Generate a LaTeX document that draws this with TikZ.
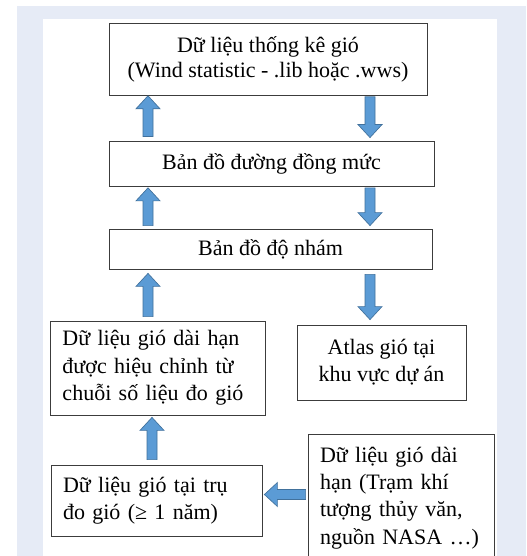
\documentclass[tikz,border=0pt]{standalone}
\usepackage{fontspec}
\setmainfont{Liberation Serif}
\usetikzlibrary{calc}

\definecolor{bandblue}{RGB}{230,235,246}
\definecolor{arrowfill}{RGB}{91,155,213}
\definecolor{arrowedge}{RGB}{65,113,156}
\definecolor{boxedge}{RGB}{60,60,60}

\tikzset{
  box/.style={draw=boxedge, fill=white, line width=0.6pt, inner sep=0pt, align=center,
    font=\fontsize{16.5}{19}\selectfont},
  leftbox/.style={box, inner xsep=9pt, align=left, font=\fontsize{16.5}{20.5}\selectfont},
  blockarrow/.style={fill=arrowfill, draw=arrowedge, line width=0.5pt, line join=miter}
}

% block arrow from #1 to #2 (tip at #2)
\newcommand{\bigarrow}[2]{%
  \coordinate (p) at (#1);
  \coordinate (q) at (#2);
  \coordinate (hb) at ($(q)!9.75pt!(p)$);
  \path[blockarrow] ($(p)!3.75pt!90:(q)$) -- ($(hb)!3.75pt!90:(q)$) -- ($(hb)!9pt!90:(q)$)
    -- (q) -- ($(hb)!9pt!-90:(q)$) -- ($(hb)!3.75pt!-90:(q)$) -- ($(p)!3.75pt!-90:(q)$) -- cycle;
}

\begin{document}
\begin{tikzpicture}[x=0.75pt,y=0.75pt,yscale=-1,xscale=1]
\useasboundingbox (0,0) rectangle (526,556);
\clip (0,0) rectangle (526,556);
%Background
\fill [bandblue] (17,6) rectangle (526,556);
\fill [white] (43,19) rectangle (497,556);

% Text Node
\node [box, minimum width=238.5pt, minimum height=53.8pt] (thongke) at (268,59.5)
  {Dữ liệu thống kê gió\\(Wind statistic - .lib hoặc .wws)};
% Text Node
\node [box, minimum width=243.75pt, minimum height=34.1pt] (duongdong) at (271.5,163.7)
  {Bản đồ đường đồng mức};
% Text Node
\node [box, minimum width=242.25pt, minimum height=30pt] (donham) at (270.5,249)
  {Bản đồ độ nhám};
% Text Node
\node [leftbox, text width=142.9pt, minimum height=70.5pt] (daihan) at (157.75,368)
  {Dữ liệu gió dài hạn\\được hiệu chỉnh từ\\chuỗi số liệu đo gió};
% Text Node
\node [box, font=\fontsize{16.5}{20.5}\selectfont, minimum width=126.75pt, minimum height=56.25pt] (atlas) at (381.5,362.5)
  {Atlas gió tại\\khu vực dự án};
% Text Node
\node [leftbox, text width=140.25pt, minimum height=53.25pt] (trudo) at (156.5,500.5)
  {Dữ liệu gió tại trụ\\đo gió (≥ 1 năm)};
% Text Node
\node [leftbox, text width=121.5pt, minimum height=96pt] (nasa) at (401,498)
  {Dữ liệu gió dài\\hạn (Trạm khí\\tượng thủy văn,\\nguồn NASA …)};

% arrow columns
\coordinate (aL) at (148,0);
\coordinate (aLL) at (152,0);
\coordinate (aR) at (370,0);

%Block Arrows
\bigarrow{$(duongdong.north -| aL)+(0,-4)$}{thongke.south -| aL}
\bigarrow{$(thongke.south -| aR)+(0,1)$}{$(duongdong.north -| aR)+(0,-3)$}
\bigarrow{$(donham.north -| aL)+(0,-3)$}{$(duongdong.south -| aL)+(0,1)$}
\bigarrow{$(duongdong.south -| aR)+(0,1)$}{$(donham.north -| aR)+(0,-3)$}
\bigarrow{$(daihan.north -| aL)+(0,-4)$}{$(donham.south -| aL)+(0,4)$}
\bigarrow{$(donham.south -| aR)+(0,5)$}{$(atlas.north -| aR)+(0,-5)$}
\bigarrow{$(trudo.north -| aLL)+(0,-5)$}{$(daihan.south -| aLL)+(0,2)$}
\bigarrow{$(nasa.west |- trudo.east)+(-2,-6)$}{$(trudo.east)+(2,-6)$}
\end{tikzpicture}
\end{document}
